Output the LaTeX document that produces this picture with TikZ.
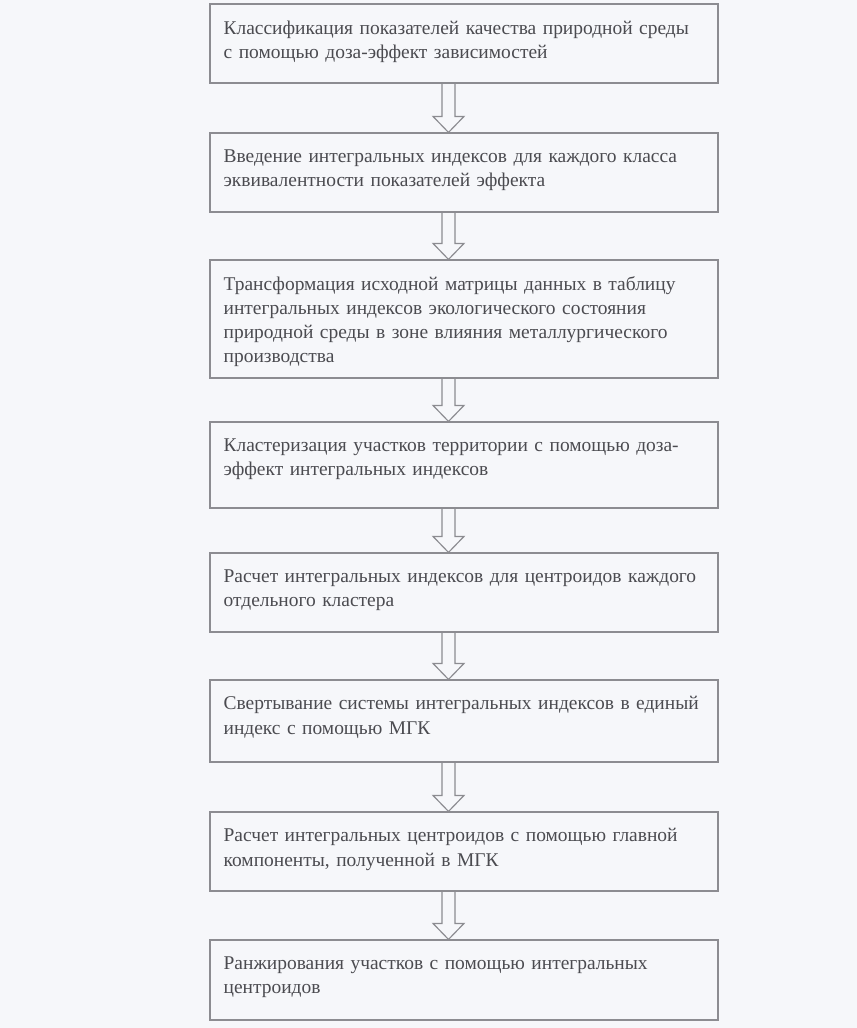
\documentclass[tikz,border=0pt]{standalone}
\usepackage{fontspec}
\setmainfont{Liberation Serif}
\usepackage{xcolor}
\usepackage{tikz}
\usetikzlibrary{calc,fit,positioning}

\definecolor{paper}{RGB}{246,247,250}
\definecolor{frame}{RGB}{140,140,145}
\definecolor{ink}{RGB}{75,75,80}
\newcommand\stagefont{\fontsize{16.6}{20.6}\selectfont}
\newcommand\shaftw{1.95mm}
\newcommand\headw{4.65mm}
\newcommand\headl{4.8mm}

\tikzset{
  stage/.style={draw=frame,line width=0.35mm,inner sep=0pt},
  stagetext/.style={anchor=north west,inner sep=0pt,text width=150mm,align=left,font=\stagefont,text=ink},
  hollow arrow/.style={draw=frame,line width=0.35mm,line join=miter,
    to path={let \p1=(\tikztostart), \p2=(\tikztotarget) in
      (\x1-\shaftw,\y1)--(\x1-\shaftw,\y2+\headl)--(\x1-\headw,\y2+\headl)--(\x1,\y2)
      --(\x1+\headw,\y2+\headl)--(\x1+\shaftw,\y2+\headl)--(\x1+\shaftw,\y1)}}
}

\begin{document}
\begin{tikzpicture}[x=0.3mm,y=-0.3mm]
\useasboundingbox[fill=paper](0,0)rectangle(857,1028);
% boxes
\node[stage,fit={(210,4)(718,83)}](b1){};
\node[stage,fit={(210,133)(718,212)}](b2){};
\node[stage,fit={(210,260)(718,378)}](b3){};
\node[stage,fit={(210,422)(718,508)}](b4){};
\node[stage,fit={(210,553)(718,632)}](b5){};
\node[stage,fit={(210,680)(718,762)}](b6){};
\node[stage,fit={(210,812)(718,891)}](b7){};
\node[stage,fit={(210,940)(718,1020)}](b8){};
% texts
\node[stagetext](t1)at($(b1.north west)+(14,17)$){Классификация показателей качества природной среды\\с помощью доза-эффект зависимостей};
\node[stagetext](t2)at($(b2.north west)+(14,17)$){Введение интегральных индексов для каждого класса\\эквивалентности показателей эффекта};
\node[stagetext](t3)at($(b3.north west)+(14,17)$){Трансформация исходной матрицы данных в таблицу\\интегральных индексов экологического состояния\\природной среды в зоне влияния металлургического\\производства};
\node[stagetext](t4)at($(b4.north west)+(14,17)$){Кластеризация участков территории с помощью доза-\\эффект интегральных индексов};
\node[stagetext](t5)at($(b5.north west)+(14,17)$){Расчет интегральных индексов для центроидов каждого\\отдельного кластера};
\node[stagetext](t6)at($(b6.north west)+(14,17)$){Свертывание системы интегральных индексов в единый\\индекс с помощью МГК};
\node[stagetext](t7)at($(b7.north west)+(14,17)$){Расчет интегральных центроидов с помощью главной\\компоненты, полученной в МГК};
\node[stagetext](t8)at($(b8.north west)+(14,17)$){Ранжирования участков с помощью интегральных\\центроидов};
% arrows
\coordinate(ax)at(448.5,0);
\foreach \a/\b in {b1/b2,b2/b3,b3/b4,b4/b5,b5/b6,b6/b7,b7/b8}
  \draw[hollow arrow](\a.south -| ax)to(\b.north -| ax);
\end{tikzpicture}
\end{document}
